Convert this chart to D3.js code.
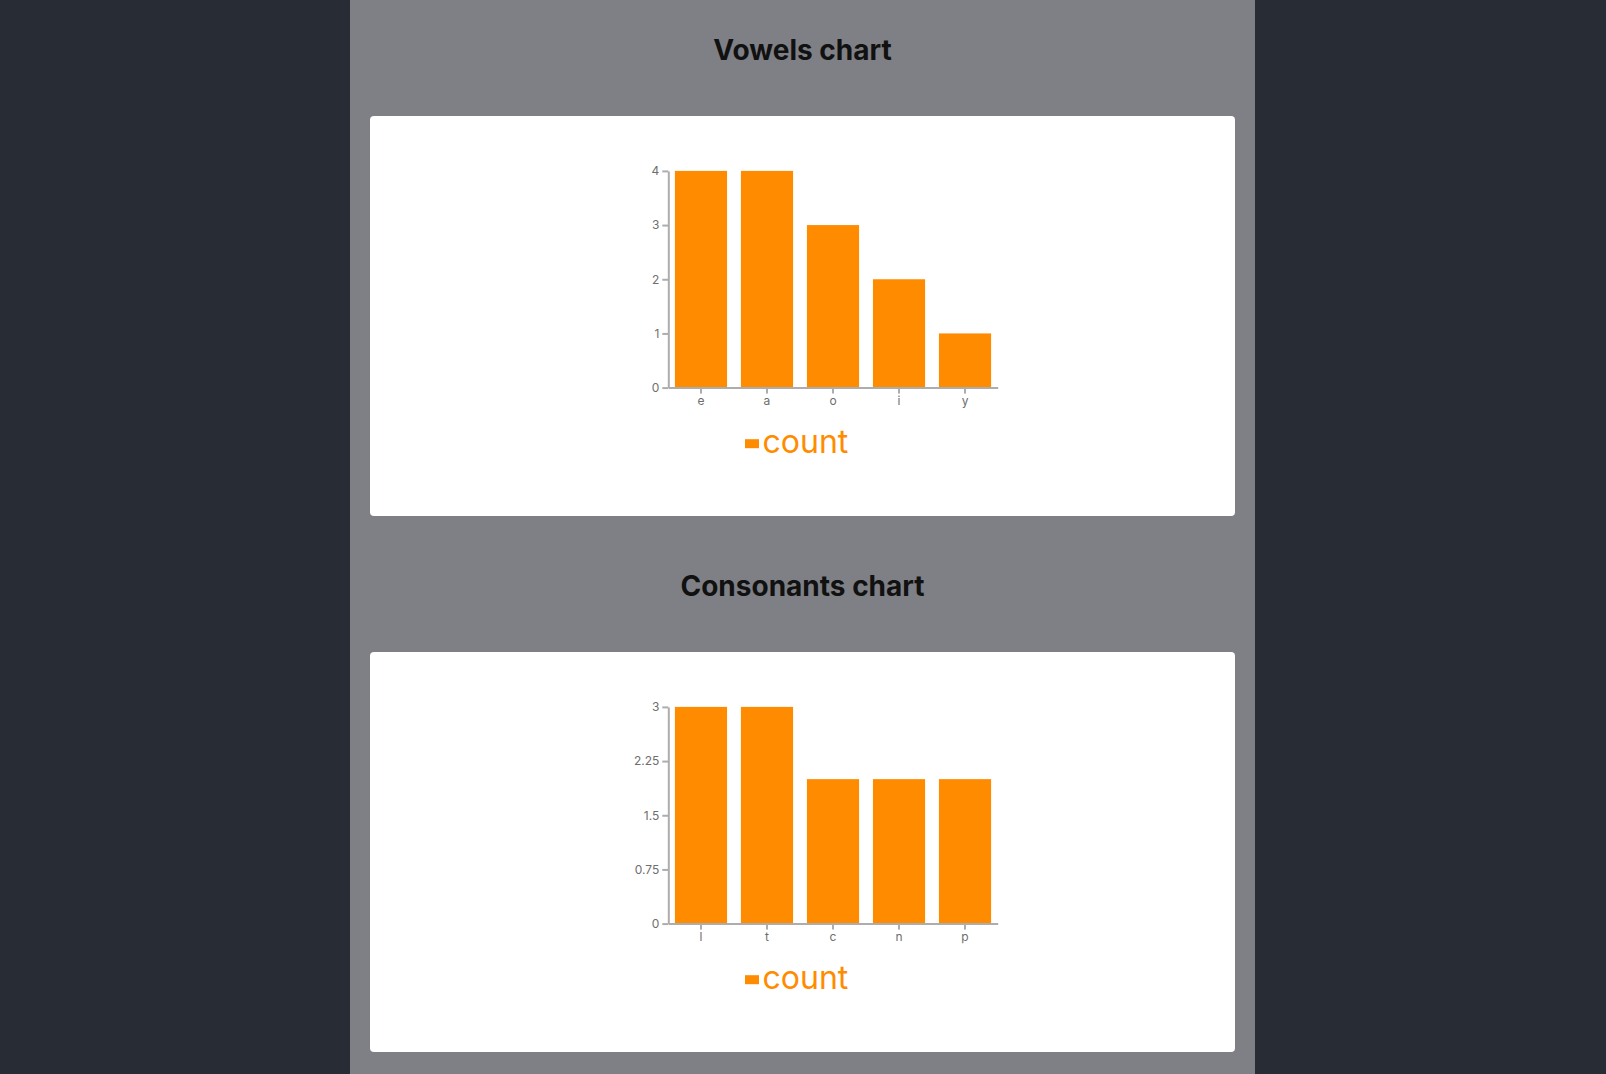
<!DOCTYPE html>
<html>
<head>
<meta charset="utf-8">
<script src="https://cdn.jsdelivr.net/npm/d3@7"></script>
<style>
  html, body { margin: 0; padding: 0; background: #282c34; }
  svg { display: block; }
</style>
</head>
<body>
<svg id="page" width="1606" height="1074"></svg>
<script>
// ---- data ----
const vowelLetters = ["e", "a", "o", "i", "y"];
const vowelCounts = [4, 4, 3, 2, 1];
const vowelTicks = [0, 1, 2, 3, 4];

const consonantLetters = ["l", "t", "c", "n", "p"];
const consonantCounts = [3, 3, 2, 2, 2];
const consonantTicks = [0, 0.75, 1.5, 2.25, 3];

const chartTitles = ["Vowels chart", "Consonants chart"];
const legendLabel = "count";

// ---- layout ----
const W = 1606, H = 1074;
const panelX = 350, panelW = 905;
const cardX = 370, cardW = 865, cardH = 400;
const cardTops = [116, 652];
const titleBaselines = [59.8, 595.8];
const orange = "#ff8c00";

const svg = d3.select("#page");
svg.append("rect").attr("x", panelX).attr("y", 0).attr("width", panelW).attr("height", H).attr("fill", "#7e8085");

const charts = [
  { letters: vowelLetters, counts: vowelCounts, ticks: vowelTicks },
  { letters: consonantLetters, counts: consonantCounts, ticks: consonantTicks }
];

charts.forEach((c, i) => {
  svg.append("text")
    .attr("x", panelX + panelW / 2)
    .attr("y", titleBaselines[i])
    .attr("text-anchor", "middle")
    .attr("font-family", "Inter, sans-serif")
    .attr("font-weight", 700)
    .attr("font-size", 28)
    .attr("fill", "#111111")
    .text(chartTitles[i]);

  const card = svg.append("g").attr("transform", `translate(${cardX},${cardTops[i]})`);
  card.append("rect").attr("width", cardW).attr("height", cardH).attr("rx", 4).attr("fill", "#ffffff");

  const x = d3.scaleBand().domain(c.letters).range([298.3, 627.7]).paddingInner(0.21).paddingOuter(0.1);
  const y = d3.scaleLinear().domain([0, d3.max(c.counts)]).range([271.6, 54.9]);

  card.selectAll("rect.bar").data(c.letters).enter().append("rect")
    .attr("class", "bar")
    .attr("x", d => x(d))
    .attr("width", x.bandwidth())
    .attr("y", (d, j) => y(c.counts[j]))
    .attr("height", (d, j) => y(0) - y(c.counts[j]))
    .attr("fill", orange);

  const gx = card.append("g").attr("transform", `translate(0,${y(0)})`)
    .call(d3.axisBottom(x).tickSizeOuter(0));
  const gy = card.append("g").attr("transform", `translate(${x.range()[0]},0)`)
    .call(d3.axisLeft(y).tickValues(c.ticks).tickFormat(d3.format("")).tickSizeOuter(0));

  [gx, gy].forEach(g => {
    g.attr("font-family", "Inter, sans-serif").attr("font-size", 12);
    g.selectAll("path, line").attr("stroke", "#adadad").attr("stroke-width", 2);
    g.selectAll("text").attr("fill", "#6e6e6e");
  });

  card.append("rect").attr("x", 375).attr("y", 323.2).attr("width", 14).attr("height", 9).attr("fill", orange);
  card.append("text")
    .attr("x", 392.5).attr("y", 337.3)
    .attr("font-family", "Inter, sans-serif")
    .attr("font-size", 32)
    .attr("fill", orange)
    .text(legendLabel);
});
</script>
</body>
</html>
